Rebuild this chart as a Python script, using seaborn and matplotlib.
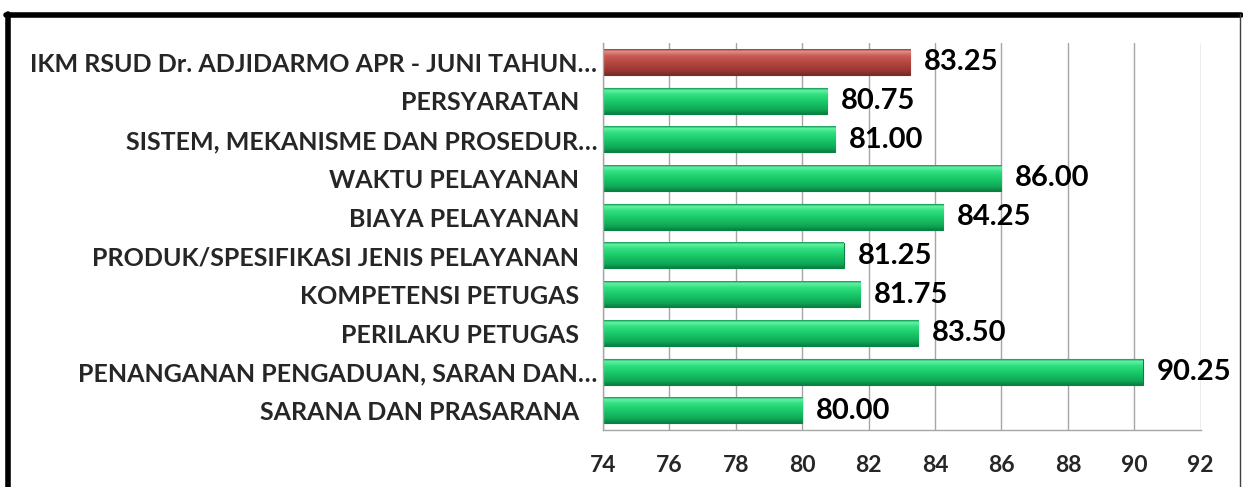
import numpy as np
import seaborn as sns
import matplotlib.pyplot as plt
from matplotlib.colors import to_rgb
from matplotlib.lines import Line2D

# Data
labels = [
    "IKM RSUD Dr. ADJIDARMO APR - JUNI TAHUN\u2026",
    "PERSYARATAN   ",
    "SISTEM, MEKANISME DAN PROSEDUR\u2026",
    "WAKTU PELAYANAN   ",
    "BIAYA PELAYANAN   ",
    "PRODUK/SPESIFIKASI JENIS PELAYANAN   ",
    "KOMPETENSI PETUGAS   ",
    "PERILAKU PETUGAS   ",
    "PENANGANAN PENGADUAN, SARAN DAN\u2026",
    "SARANA DAN PRASARANA   ",
]
values = [83.25, 80.75, 81.00, 86.00, 84.25, 81.25, 81.75, 83.50, 90.25, 80.00]
x_ticks = [74, 76, 78, 80, 82, 84, 86, 88, 90, 92]

# Colours: first bar is the overall index (red), the rest green
green_shade = ["#139a55", "#63f2a5", "#2fdf80", "#18c667", "#0fa656", "#0b8043"]
red_shade = ["#9a3a36", "#e2908b", "#ca5c57", "#b3453f", "#963632", "#7a2a27"]
shade_stops = [0.0, 0.08, 0.25, 0.55, 0.85, 1.0]
bar_colors = ["#b3453f"] + ["#18c667"] * (len(labels) - 1)

sns.set_style("white")
plt.rcParams['font.family'] = ['Lato', 'DejaVu Sans']
plt.rcParams['font.weight'] = 'bold'

fig = plt.figure(figsize=(12.43, 4.87), dpi=100)
ax = fig.add_axes([0.485, 0.117, 0.481, 0.795])

sns.barplot(x=values, y=labels, hue=labels, palette=bar_colors, legend=False,
            orient='h', width=0.65, ax=ax, saturation=1, zorder=3)

x_min, x_max = x_ticks[0], x_ticks[-1]
ax.set_xlim(x_min, x_max)
ax.set_ylim(len(labels) - 0.5, -0.5)


def gradient(colors, n=60):
    t = np.linspace(0, 1, n)
    rgb = np.array([to_rgb(c) for c in colors])
    out = np.stack([np.interp(t, shade_stops, rgb[:, k]) for k in range(3)], axis=-1)
    return out[:, None, :]


# 3D-like vertical shading over each bar (bars start at the axis minimum)
for i, patch in enumerate(ax.patches):
    x0, y0 = max(patch.get_x(), x_min), patch.get_y()
    x1, h = patch.get_x() + patch.get_width(), patch.get_height()
    shade = red_shade if i == 0 else green_shade
    patch.set_edgecolor(shade[-1])
    patch.set_linewidth(0.8)
    ax.imshow(gradient(shade), extent=(x0, x1, y0 + h, y0),
              aspect='auto', origin='upper', zorder=3.5, interpolation='bilinear')

ax.set_xlim(x_min, x_max)
ax.set_ylim(len(labels) - 0.5, -0.5)

for cont in ax.containers:
    ax.bar_label(cont, fmt='%.2f', padding=10, fontsize=21, fontweight='bold', color='black')

ax.set_xticks(x_ticks)
ax.set_xlabel("")
ax.set_ylabel("")

ax.grid(True, axis='x', color='#a6a6a6', lw=1, zorder=0)
ax.set_axisbelow(True)
for s in ['top', 'right']:
    ax.spines[s].set_visible(False)
for s in ['left', 'bottom']:
    ax.spines[s].set_color('#a6a6a6')
    ax.spines[s].set_linewidth(1)
    ax.spines[s].set_zorder(5)

ax.tick_params(axis='x', which='major', direction='out', length=6, color='#a6a6a6',
               pad=12, labelsize=16.5)
ax.tick_params(axis='y', which='major', length=0, pad=4, labelsize=18)
ax.set_yticks(np.arange(-0.5, len(labels), 1), minor=True)
ax.tick_params(axis='y', which='minor', direction='out', length=6, color='#a6a6a6')

# Chart frame (cropped Excel-style border)
fig.add_artist(Line2D([0.0065, 0.0065], [0, 0.972], color='black', lw=4, transform=fig.transFigure))
fig.add_artist(Line2D([0.0045, 0.998], [0.970, 0.970], color='black', lw=4, transform=fig.transFigure))
fig.add_artist(Line2D([0.9975, 0.9975], [0, 0.972], color='#404040', lw=1, transform=fig.transFigure))

fig.savefig("out.png", dpi=100)
